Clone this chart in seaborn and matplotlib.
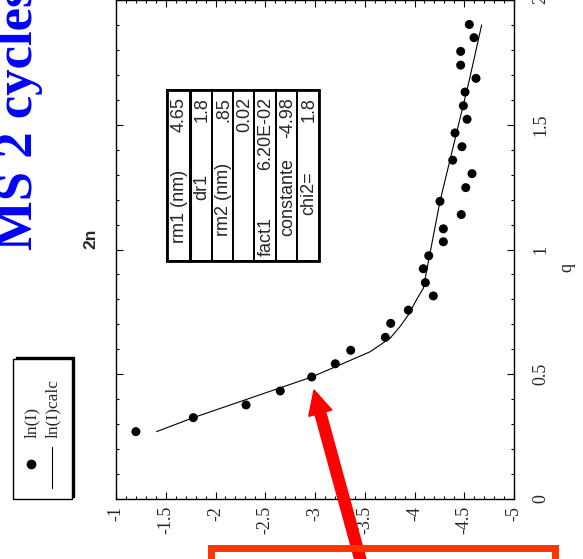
import matplotlib
matplotlib.use("Agg")
import matplotlib.pyplot as plt
import matplotlib.ticker as mtick
from matplotlib.patches import Rectangle, FancyArrow
from matplotlib.lines import Line2D
import seaborn as sns

# -------------------------------------------------
# Data read off the (rotated) scan: ln(I) vs q
# -------------------------------------------------
ln_i = [-1.20, -1.777, -2.307, -2.651, -2.967, -3.204, -3.359, -3.707, -3.761,
        -3.938, -4.189, -4.109, -4.088, -4.143, -4.290, -4.290, -4.470, -4.256,
        -4.515, -4.578, -4.384, -4.477, -4.407, -4.528, -4.491, -4.508, -4.618,
        -4.464, -4.464, -4.598, -4.551]
q_pts = [0.270, 0.326, 0.377, 0.433, 0.489, 0.542, 0.596, 0.648, 0.704,
         0.757, 0.814, 0.867, 0.923, 0.975, 1.031, 1.083, 1.140, 1.193,
         1.248, 1.304, 1.358, 1.412, 1.467, 1.522, 1.576, 1.631, 1.686,
         1.739, 1.794, 1.849, 1.902]

# fitted curve ln(I)calc
fit_ln_i = [-1.408, -1.777, -2.967, -3.519, -3.553, -3.704, -3.754, -3.854,
            -3.937, -4.022, -4.088, -4.256, -4.551, -4.675]
fit_q = [0.270, 0.326, 0.489, 0.584, 0.590, 0.631, 0.644, 0.691,
         0.737, 0.800, 0.844, 1.193, 1.679, 1.900]

# fit parameter box
param_names = ["rm1 (nm)", "dr1", "rm2 (nm)", "", "fact1", "constante", "chi2="]
param_values = ["4.65", "1.8", ".85", "0.02", "6.20E-02", "-4.98", "1.8"]

title_text = "MS 2 cycles"
subtitle_text = "2n"
legend_labels = ["ln(I)", "ln(I)calc"]

W, H = 583, 559

sns.set_style("ticks")
plt.rcParams["axes.unicode_minus"] = False
serif = ["Liberation Serif", "DejaVu Serif"]
sans = ["Liberation Sans", "DejaVu Sans"]


def px(x, y):
    # pixel position (from top-left) -> figure fraction
    return x / W, 1 - y / H


fig = plt.figure(figsize=(W / 100, H / 100), dpi=100)
ax = fig.add_axes([116 / W, 60 / H, (514 - 116) / W, 499 / H])

sns.lineplot(x=fit_ln_i, y=fit_q, sort=False, estimator=None,
             color="black", linewidth=0.8, ax=ax)
sns.scatterplot(x=ln_i, y=q_pts, color="black", s=42, edgecolor="none",
                legend=False, ax=ax)

ax.set_xlim(-1, -5)
ax.set_ylim(0, 2)
ax.xaxis.set_major_locator(mtick.MultipleLocator(0.5))
ax.xaxis.set_minor_locator(mtick.MultipleLocator(0.1))
ax.yaxis.set_major_locator(mtick.MultipleLocator(0.5))
ax.yaxis.set_minor_locator(mtick.MultipleLocator(0.1))
fmt = mtick.FuncFormatter(lambda v, _: f"{v:g}")
ax.xaxis.set_major_formatter(fmt)
ax.yaxis.set_major_formatter(fmt)

ax.tick_params(which="both", direction="in", top=True, bottom=True,
               left=True, right=True, labelleft=False, labelright=True,
               color="black", width=0.8)
ax.tick_params(which="major", length=5)
ax.tick_params(which="minor", length=2.5)
ax.tick_params(axis="x", labelrotation=90, pad=5)
ax.tick_params(axis="y", labelrotation=90, pad=13)
for lab in ax.get_xticklabels() + ax.get_yticklabels():
    lab.set_family(serif)
    lab.set_fontsize(13)
for lab in ax.get_yticklabels():
    lab.set_verticalalignment("center")
for sp in ax.spines.values():
    sp.set_linewidth(1.0)
    sp.set_color("black")
ax.set_xlabel("")
ax.set_ylabel("")

# q axis label (right side, rotated page)
fig.text(*px(567, 268), "q", rotation=90, ha="center", va="center",
         family=serif, fontsize=13)

# -------------------------------------------------
# Parameter table (drawn rotated)
# -------------------------------------------------
col_edges = [167, 190, 212, 233, 254, 276, 297, 319]
t_top, t_bot = 90, 261
for i in range(len(col_edges) - 1):
    x0, x1 = col_edges[i], col_edges[i + 1]
    fx0, fy0 = px(x0, t_bot)
    fx1, fy1 = px(x1, t_top)
    fig.add_artist(Rectangle((fx0, fy0), fx1 - fx0, fy1 - fy0,
                             transform=fig.transFigure, fill=False,
                             edgecolor="black", linewidth=1.3))
fx0, fy0 = px(167, t_bot)
fx1, fy1 = px(319, t_top)
fig.add_artist(Rectangle((fx0, fy0), fx1 - fx0, fy1 - fy0,
                         transform=fig.transFigure, fill=False,
                         edgecolor="black", linewidth=2.0))
fig.add_artist(Line2D([px(190, 0)[0]] * 2, [fy0, fy1],
                      transform=fig.transFigure, color="black", linewidth=2.2))

label_centers = [206, 187, 199, None, 236, 197, 193]
for i, (name, val) in enumerate(zip(param_names, param_values)):
    xc = (col_edges[i] + col_edges[i + 1]) / 2 + 1
    fig.text(*px(xc, 97), val, rotation=90, rotation_mode="anchor",
             ha="right", va="center", family=sans, fontsize=13)
    if name:
        fig.text(*px(xc, label_centers[i]), name, rotation=90,
                 rotation_mode="anchor", ha="center", va="center",
                 family=sans, fontsize=13)

# -------------------------------------------------
# Legend box with shadow
# -------------------------------------------------
sx0, sy0 = px(16, 497)
sx1, sy1 = px(74, 357)
fig.add_artist(Rectangle((sx0, sy0), sx1 - sx0, sy1 - sy0,
                         transform=fig.transFigure, facecolor="black",
                         edgecolor="black"))
lx0, ly0 = px(13, 499)
lx1, ly1 = px(72, 359)
fig.add_artist(Rectangle((lx0, ly0), lx1 - lx0, ly1 - ly0,
                         transform=fig.transFigure, facecolor="white",
                         edgecolor="black", linewidth=1.0))
mx, my = px(31, 464)
fig.add_artist(Line2D([mx], [my], marker="o", markersize=6, color="black",
                      transform=fig.transFigure))
fig.add_artist(Line2D([px(52, 0)[0]] * 2, [px(0, 447)[1], px(0, 488)[1]],
                      color="black", linewidth=0.8, transform=fig.transFigure))
fig.text(*px(32, 438), legend_labels[0], rotation=90, rotation_mode="anchor",
         ha="left", va="center", family=serif, fontsize=12.5)
fig.text(*px(53, 438), legend_labels[1], rotation=90, rotation_mode="anchor",
         ha="left", va="center", family=serif, fontsize=12.5)

# -------------------------------------------------
# Titles
# -------------------------------------------------
fig.text(*px(32, 250), title_text, rotation=90, rotation_mode="anchor",
         ha="left", va="baseline", family=serif, fontsize=38,
         fontweight="bold", color="#0000ff")
fig.text(*px(91, 239), subtitle_text, rotation=90, rotation_mode="anchor",
         ha="center", va="center", family=sans, fontsize=12.5,
         fontweight="bold")

# -------------------------------------------------
# Red annotation: arrow and box
# -------------------------------------------------
fig.add_artist(FancyArrow(366 / 100, (H - 580) / 100, -52 / 100, 190 / 100,
                          width=0.11, head_width=0.24, head_length=0.24,
                          length_includes_head=True, color="#ff0000",
                          transform=fig.dpi_scale_trans))
bx0, by0 = px(211, 620)
bx1, by1 = px(555, 548)
fig.add_artist(Rectangle((bx0, by0), bx1 - bx0, by1 - by0,
                         transform=fig.transFigure, fill=False,
                         edgecolor="#ff3300", linewidth=5))

fig.savefig("out.png", dpi=100)
